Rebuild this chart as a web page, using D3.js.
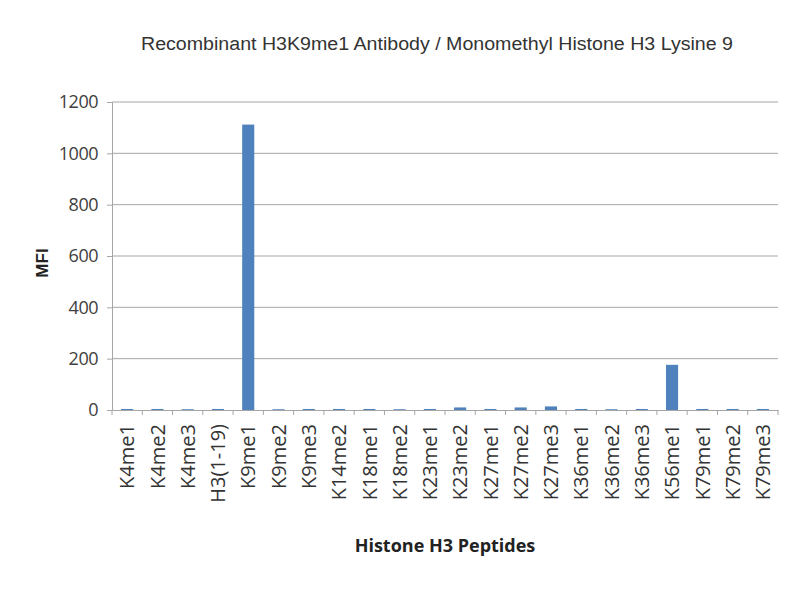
<!DOCTYPE html>
<html>
<head>
<meta charset="utf-8">
<script src="https://cdn.jsdelivr.net/npm/d3@7"></script>
<style>
  body { margin: 0; background: #fff; }
  svg { display: block; }
</style>
</head>
<body>
<div id="chart"></div>
<script>
const peptides = ['K4me1', 'K4me2', 'K4me3', 'H3(1-19)', 'K9me1', 'K9me2', 'K9me3', 'K14me2',
  'K18me1', 'K18me2', 'K23me1', 'K23me2', 'K27me1', 'K27me2', 'K27me3', 'K36me1',
  'K36me2', 'K36me3', 'K56me1', 'K79me1', 'K79me2', 'K79me3'];
const mfi = [4, 4, 3, 4, 1112, 3, 4, 4, 4, 3, 4, 10, 4, 10, 14, 4, 3, 4, 176, 4, 4, 4];
const yTicks = [0, 200, 400, 600, 800, 1000, 1200];

const width = 800, height = 600;
const margin = { top: 102, right: 22, bottom: 190, left: 112 };
const labelFont = 'Open Sans, Liberation Sans, Arial, sans-serif';

const svg = d3.select('#chart').append('svg')
  .attr('width', width)
  .attr('height', height);

const x = d3.scaleBand()
  .domain(peptides)
  .range([margin.left, width - margin.right])
  .paddingInner(0.6)
  .paddingOuter(0.3);

const y = d3.scaleLinear()
  .domain([0, 1200])
  .range([height - margin.bottom, margin.top]);

// gridlines
svg.append('g')
  .selectAll('line')
  .data(yTicks.filter(d => d > 0))
  .join('line')
  .attr('x1', margin.left)
  .attr('x2', width - margin.right)
  .attr('y1', d => y(d))
  .attr('y2', d => y(d))
  .attr('stroke', '#a6a6a6')
  .attr('stroke-width', 1);

// y axis
const yAxis = svg.append('g')
  .attr('transform', `translate(${margin.left},0)`)
  .call(d3.axisLeft(y).tickValues(yTicks).tickSize(5).tickPadding(9).tickFormat(d3.format('d')));
yAxis.select('.domain').attr('stroke', '#a6a6a6');
yAxis.selectAll('.tick line').attr('stroke', '#a6a6a6');
yAxis.selectAll('text')
  .attr('fill', '#404040')
  .style('font-family', labelFont)
  .style('font-size', '18px')
  .style('letter-spacing', '-0.5px');

// bars
svg.append('g')
  .selectAll('rect')
  .data(peptides)
  .join('rect')
  .attr('x', d => x(d))
  .attr('width', x.bandwidth())
  .attr('y', (d, i) => y(mfi[i]))
  .attr('height', (d, i) => y(0) - y(mfi[i]))
  .attr('fill', '#4f81bd');

// x axis
const xAxis = svg.append('g')
  .attr('transform', `translate(0,${y(0)})`)
  .call(d3.axisBottom(x).tickSize(0).tickPadding(0));
xAxis.select('.domain').attr('stroke', '#a6a6a6');

// category boundary ticks
const plotW = width - margin.left - margin.right;
svg.append('g')
  .selectAll('line')
  .data(d3.range(peptides.length + 1))
  .join('line')
  .attr('x1', i => margin.left + i * plotW / peptides.length)
  .attr('x2', i => margin.left + i * plotW / peptides.length)
  .attr('y1', y(0))
  .attr('y2', y(0) + 5)
  .attr('stroke', '#a6a6a6');

xAxis.selectAll('text')
  .attr('transform', 'rotate(-90)')
  .attr('x', -14)
  .attr('y', 0)
  .attr('dy', '0.36em')
  .attr('text-anchor', 'end')
  .attr('fill', '#333')
  .style('font-family', labelFont)
  .style('font-size', '20px');

// title
svg.append('text')
  .attr('x', 437)
  .attr('y', 50)
  .attr('text-anchor', 'middle')
  .attr('fill', '#333')
  .attr('textLength', 592)
  .attr('lengthAdjust', 'spacingAndGlyphs')
  .style('font-family', 'Liberation Sans Narrow, Liberation Sans, Arial, sans-serif')
  .style('font-size', '18px')
  .text('Recombinant H3K9me1 Antibody / Monomethyl Histone H3 Lysine 9');

// axis titles
svg.append('text')
  .attr('transform', 'translate(48,263) rotate(-90)')
  .attr('text-anchor', 'middle')
  .attr('fill', '#222')
  .style('font-family', 'Liberation Sans, Arial, sans-serif')
  .style('font-weight', 'bold')
  .style('font-size', '17px')
  .text('MFI');

svg.append('text')
  .attr('x', 445)
  .attr('y', 552)
  .attr('text-anchor', 'middle')
  .attr('fill', '#222')
  .style('font-family', labelFont)
  .style('font-weight', 'bold')
  .style('font-size', '18px')
  .text('Histone H3 Peptides');
</script>
</body>
</html>
